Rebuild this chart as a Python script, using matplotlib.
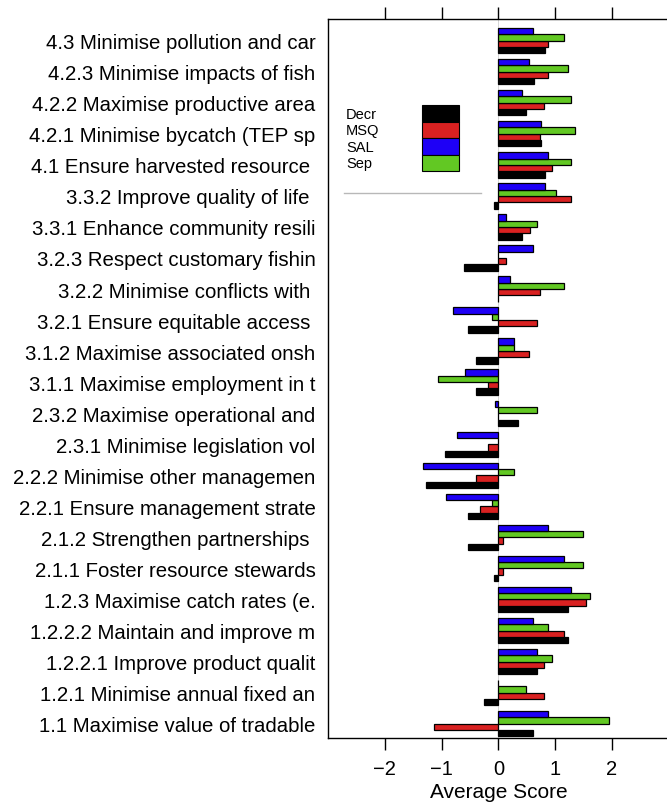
import numpy as np
import matplotlib
matplotlib.use("Agg")
from matplotlib import pyplot as plt
from matplotlib.patches import Rectangle
from matplotlib.lines import Line2D

plt.rcParams["font.family"] = ["Liberation Sans", "DejaVu Sans"]

# objectives, top of chart first (names cut to 30 characters)
objectives = [
    "4.3 Minimise pollution and car",
    "4.2.3 Minimise impacts of fish",
    "4.2.2 Maximise productive area",
    "4.2.1 Minimise bycatch (TEP sp",
    "4.1 Ensure harvested resource ",
    "3.3.2 Improve quality of life ",
    "3.3.1 Enhance community resili",
    "3.2.3 Respect customary fishin",
    "3.2.2 Minimise conflicts with ",
    "3.2.1 Ensure equitable access ",
    "3.1.2 Maximise associated onsh",
    "3.1.1 Maximise employment in t",
    "2.3.2 Maximise operational and",
    "2.3.1 Minimise legislation vol",
    "2.2.2 Minimise other managemen",
    "2.2.1 Ensure management strate",
    "2.1.2 Strengthen partnerships ",
    "2.1.1 Foster resource stewards",
    "1.2.3 Maximise catch rates (e.",
    "1.2.2.2 Maintain and improve m",
    "1.2.2.1 Improve product qualit",
    "1.2.1 Minimise annual fixed an",
    "1.1 Maximise value of tradable",
]

# average scores per strategy, same order as objectives
decr = [0.82, 0.62, 0.49, 0.75, 0.82, -0.07, 0.41, -0.60, 0.0, -0.53, -0.40, -0.40,
        0.35, -0.94, -1.27, -0.53, -0.53, -0.07, 1.22, 1.22, 0.68, -0.26, 0.61]
msq = [0.875, 0.88, 0.81, 0.74, 0.95, 1.28, 0.55, 0.14, 0.74, 0.68, 0.54, -0.19,
       0.0, -0.19, -0.39, -0.32, 0.08, 0.08, 1.54, 1.15, 0.81, 0.81, -1.13]
sal = [0.61, 0.54, 0.42, 0.75, 0.88, 0.82, 0.14, 0.61, 0.21, -0.80, 0.28, -0.59,
       -0.06, -0.73, -1.33, -0.93, 0.875, 1.15, 1.28, 0.61, 0.68, 0.0, 0.875]
sep = [1.15, 1.22, 1.28, 1.34, 1.28, 1.01, 0.68, 0.0, 1.15, -0.12, 0.28, -1.06,
       0.68, 0.0, 0.28, -0.12, 1.48, 1.48, 1.61, 0.875, 0.95, 0.48, 1.94]

series = ["Decr", "MSQ", "SAL", "Sep"]
colors = {"Decr": "#000000", "MSQ": "#d92121", "SAL": "#1e00f6", "Sep": "#62c823"}
values = {"Decr": decr, "MSQ": msq, "SAL": sal, "Sep": sep}
# stacking inside each group, bottom to top
stack = ["Decr", "MSQ", "Sep", "SAL"]

n = len(objectives)
ypos = np.arange(n)[::-1]
h = 0.204

W, H = 667, 803
fig = plt.figure(figsize=(W / 100, H / 100), dpi=100)
ax = fig.add_axes([0.4918, 0.0793, 0.511, 0.8958])

ax.axvline(0, color="#d0d0d0", lw=0.6, zorder=0)
for j, name in enumerate(stack):
    ax.barh(ypos + (j - 1.5) * h, values[name], height=h, color=colors[name],
            edgecolor="black", linewidth=0.9, zorder=2)

ax.set_xlim(-3.0, 3.0)
ax.set_ylim(-0.472, n - 1 + 0.698)
ax.set_yticks(ypos)
ax.set_yticklabels(objectives, fontsize=14.7)
ax.tick_params(axis="y", length=0, pad=9)
ax.set_xticks([-2, -1, 0, 1, 2])
ax.set_xticklabels(["\u22122", "\u22121", "0", "1", "2"])
ax.tick_params(axis="x", which="both", direction="out", length=8.6, width=1.0,
               labelsize=14.5, pad=6, top=True, labeltop=False)
ax.set_xlabel("Average Score", fontsize=15, labelpad=3.5)
for s in ax.spines.values():
    s.set_linewidth(1.0)

# key: labels on the left, colour boxes stacked without gaps on the right
box_x, box_w, box_top, box_h = 422, 37, 106, 16.5
for i, name in enumerate(series):
    y0 = box_top + i * box_h
    fig.add_artist(Rectangle((box_x / W, 1 - (y0 + box_h) / H), box_w / W, box_h / H,
                             facecolor=colors[name], edgecolor="black", lw=0.8,
                             transform=fig.transFigure))
    fig.text(346 / W, 1 - (y0 + box_h / 2 + 0.5) / H, name, fontsize=10.5,
             ha="left", va="center")
fig.add_artist(Line2D([344 / W, 481 / W], [1 - 194 / H] * 2,
                      color="#b8b8b8", lw=1.0))

fig.savefig("out.png", dpi=100)
